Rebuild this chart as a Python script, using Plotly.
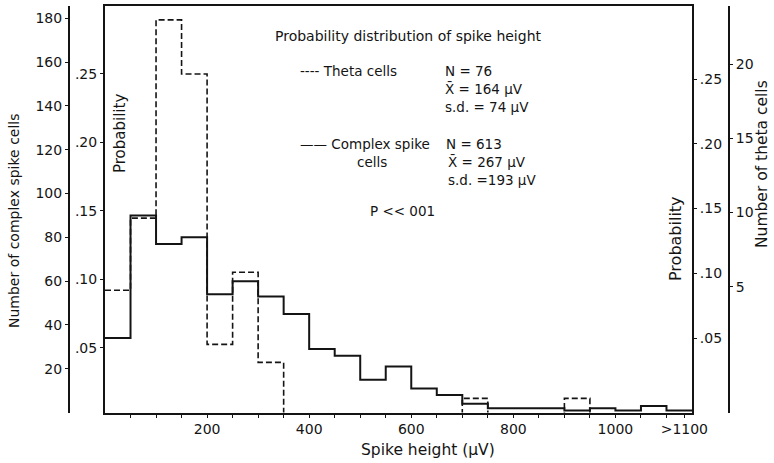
import plotly.graph_objects as go

W, H = 774, 463

# ---- data ----
bin_edges = list(range(0, 1151, 50))
complex_counts = [34, 90, 77, 80, 54, 60, 53, 45, 29, 26, 15, 21, 11, 8, 4, 2, 2, 2, 1, 2, 1, 3, 1]
theta_counts = [7, 11, 22, 19, 4, 8, 3, 0, 0, 0, 0, 0, 0, 0, 1, 0, 0, 0, 1, 0, 0, 0, 0]
theta_total = 76

x_tick_vals = [200, 400, 600, 800, 1000, 1135]
x_tick_text = ["200", "400", "600", "800", "1000", ">1100"]
count_ticks = [20, 40, 60, 80, 100, 120, 140, 160, 180]
prob_ticks = [0.05, 0.10, 0.15, 0.20, 0.25]
prob_text = [".05", ".10", ".15", ".20", ".25"]
theta_ticks = [5, 10, 15, 20]

FONT = "DejaVu Sans"
INK = "#141414"


def px(x):
    return x / W


def py(y):
    return 1 - y / H


theta_prob = [n / theta_total for n in theta_counts]

fig = go.Figure()
fig.add_trace(go.Scatter(
    x=bin_edges, y=complex_counts + [complex_counts[-1]],
    mode="lines", line=dict(shape="hv", color=INK, width=2),
    yaxis="y", showlegend=False, hoverinfo="skip"))
fig.add_trace(go.Scatter(
    x=bin_edges, y=theta_prob + [theta_prob[-1]],
    mode="lines", line=dict(shape="hv", color=INK, width=1.6, dash="6px,3px"),
    yaxis="y2", showlegend=False, hoverinfo="skip"))

ydom = [py(412.6), py(6)]
tickfont = dict(family=FONT, size=14, color=INK)

# extra tick marks every 50 on x
minor_vals = [v for v in range(50, 1101, 50)]
all_x_vals = sorted(set(minor_vals + x_tick_vals))
all_x_text = [x_tick_text[x_tick_vals.index(v)] if v in x_tick_vals else "" for v in all_x_vals]

fig.update_layout(
    width=W, height=H,
    margin=dict(l=0, r=0, t=0, b=0),
    paper_bgcolor="white", plot_bgcolor="white",
    font=dict(family=FONT, color=INK),
    xaxis=dict(domain=[px(105), px(692)], range=[0, 1150], anchor="y",
               showline=True, linecolor=INK, linewidth=2, mirror=True,
               ticks="outside", ticklen=3, tickcolor=INK,
               tickvals=all_x_vals, ticktext=all_x_text, tickfont=tickfont,
               showgrid=False, zeroline=False, automargin=False),
    yaxis=dict(domain=ydom, range=[0, 185.6], anchor="free", position=px(69), side="left",
               showline=True, linecolor=INK, linewidth=2,
               ticks="outside", ticklen=3, tickcolor=INK,
               tickvals=count_ticks, tickfont=tickfont,
               showgrid=False, zeroline=False, automargin=False),
    yaxis2=dict(domain=ydom, range=[0.0028, 0.2996], overlaying="y", anchor="x", side="left",
                showline=True, linecolor=INK, linewidth=2,
                ticks="outside", ticklen=3, tickcolor=INK,
                tickvals=prob_ticks, ticktext=prob_text, tickfont=tickfont,
                showgrid=False, zeroline=False, automargin=False),
    yaxis3=dict(domain=ydom, range=[-0.0076, 0.3064], overlaying="y", anchor="x", side="right",
                showline=True, linecolor=INK, linewidth=2,
                ticks="outside", ticklen=3, tickcolor=INK,
                tickvals=prob_ticks, ticktext=prob_text, tickfont=tickfont,
                showgrid=False, zeroline=False, automargin=False),
    yaxis4=dict(domain=ydom, range=[-3.48, 23.92], overlaying="y", anchor="free", position=px(729),
                side="right",
                showline=True, linecolor=INK, linewidth=2,
                ticks="outside", ticklen=3, tickcolor=INK,
                tickvals=theta_ticks, tickfont=tickfont,
                showgrid=False, zeroline=False, automargin=False),
)

# dummy traces so the right-hand axes are drawn
fig.add_trace(go.Scatter(x=[None], y=[None], yaxis="y3", showlegend=False))
fig.add_trace(go.Scatter(x=[None], y=[None], yaxis="y4", showlegend=False))


def note(text, x, y, size=13.5, xanchor="left", angle=0):
    fig.add_annotation(text=text, x=px(x), y=py(y), xref="paper", yref="paper",
                       showarrow=False, xanchor=xanchor, yanchor="middle",
                       textangle=angle, font=dict(family=FONT, size=size, color=INK))


note("Probability distribution of spike height", 408, 36, size=14, xanchor="center")
note("---- Theta cells", 298, 71)
note("N = 76", 443, 71)
note("X\u0304 = 164 \u03bcV", 443, 89)
note("s.d. = 74 \u03bcV", 443, 107)
note("\u2014\u2014 Complex spike", 298, 144)
note("cells", 372, 162, xanchor="center")
note("N = 613", 444, 144)
note("X\u0304 = 267 \u03bcV", 446, 162)
note("s.d. =193 \u03bcV", 446, 180)
note("P << 001", 368, 211)

note("Number of complex spike cells", 14, 221, size=14, xanchor="center", angle=-90)
note("Probability", 120, 134, size=15, xanchor="center", angle=-90)
note("Probability", 675, 239, size=16, xanchor="center", angle=-90)
note("Number of theta cells", 762, 164, size=15.5, xanchor="center", angle=-90)
note("Spike height (\u03bcV)", 428, 450, size=15.5, xanchor="center")

fig.write_html("out.html",
               config={"displayModeBar": False},
               post_script="document.body.style.margin='0';document.body.style.overflow='hidden';")
